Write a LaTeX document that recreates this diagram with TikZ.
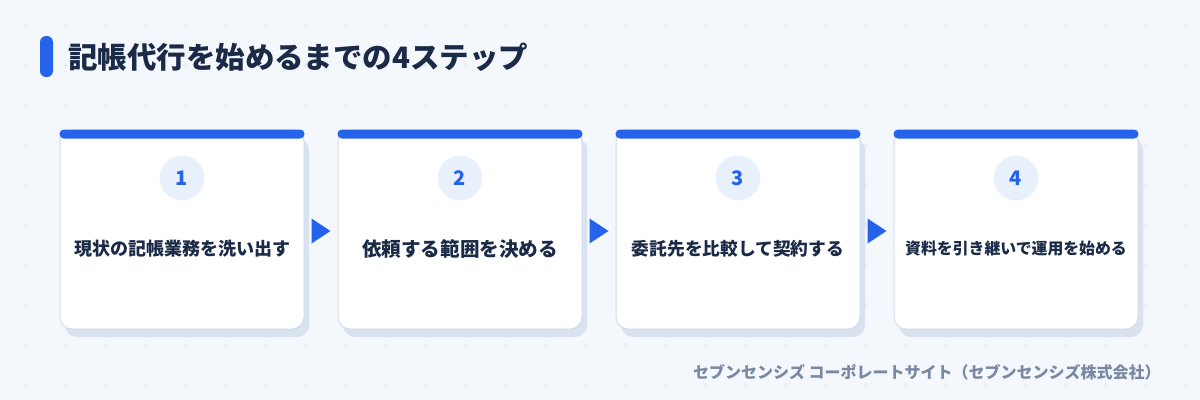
\documentclass[tikz,border=0pt]{standalone}
\usepackage{fontspec}
\setmainfont{Noto Sans CJK JP}
\usetikzlibrary{shadows,calc}
\definecolor{bgc}{HTML}{F4F7FC}
\definecolor{gridc}{HTML}{DFE6F0}
\definecolor{mainblue}{HTML}{2563EB}
\definecolor{navy}{HTML}{1B2A47}
\definecolor{cardborder}{HTML}{D0DCEB}
\definecolor{shadowc}{HTML}{D9E3F0}
\definecolor{circfill}{HTML}{E8F0FC}
\definecolor{footc}{HTML}{7A89A3}
\tikzset{
  card/.style={rectangle, rounded corners=9pt, fill=white, draw=cardborder, line width=0.75pt,
    minimum width=183pt, minimum height=149.25pt, inner sep=0pt,
    general shadow={fill=shadowc, shadow xshift=3.75pt, shadow yshift=-6pt}},
  topbar/.style={fill=mainblue, rounded corners=3.3pt},
  numcirc/.style={circle, fill=circfill, minimum size=33.5pt, inner sep=0pt,
    font=\fontsize{15}{18}\selectfont\bfseries, text=mainblue},
  steplabel/.style={text=navy, inner sep=0pt},
  arrowtri/.style={fill=mainblue},
  plusmark/.style={draw=gridc, line width=0.6pt},
}
\begin{document}
\begin{tikzpicture}[x=0.75pt,y=-0.75pt]
\fill[bgc] (0,0) rectangle (1200,400);
\useasboundingbox (0,0) rectangle (1200,400);
% dotted grid of plus marks
\foreach \i in {0,...,29}{
  \foreach \j in {0,...,9}{
    \draw[plusmark] ({25+40*\i-2.5},{25+40*\j}) -- ++(5,0);
    \draw[plusmark] ({25+40*\i},{25+40*\j-2.5}) -- ++(0,5);
  }
}
% title
\fill[mainblue, rounded corners=4.5pt] (40,36) rectangle (53,77);
\node[anchor=west, inner sep=0pt, text=navy, font=\fontsize{22.1}{26}\selectfont\bfseries] (title) at (68,57.5) {記帳代行を始めるまでの4ステップ};
% cards
\foreach \n/\cx in {1/182,2/460,3/738,4/1016}{
  \node[card] (c\n) at (\cx,229.5) {};
  \fill[topbar] (c\n.north west) rectangle ([yshift=-6.75pt]c\n.north east);
  \node[numcirc] (n\n) at (\cx,178) {\n};
}
\node[steplabel, font=\fontsize{13.5}{16}\selectfont\bfseries] (t1) at (182,249) {現状の記帳業務を洗い出す};
\node[steplabel, font=\fontsize{14.7}{18}\selectfont\bfseries] (t2) at (460,249) {依頼する範囲を決める};
\node[steplabel, font=\fontsize{13.3}{16}\selectfont\bfseries] (t3) at (738,249) {委託先を比較して契約する};
\node[steplabel, font=\fontsize{11.9}{14}\selectfont\bfseries] (t4) at (1016,249) {資料を引き継いで運用を始める};
% arrows between cards
\foreach \a/\b in {1/2,2/3,3/4}{
  \coordinate (m\a) at ($(c\a.east)!0.5!(c\b.west)+(0,1.5)$);
  \fill[arrowtri] ($(m\a)+(-9.5,-12.5)$) -- ($(m\a)+(9.5,0)$) -- ($(m\a)+(-9.5,12.5)$) -- cycle;
}
% footer
\node[anchor=east, inner sep=0pt, text=footc, font=\fontsize{12}{14}\selectfont\bfseries] (foot) at (1161,372) {セブンセンシズ コーポレートサイト（セブンセンシズ株式会社）};
\end{tikzpicture}
\end{document}
